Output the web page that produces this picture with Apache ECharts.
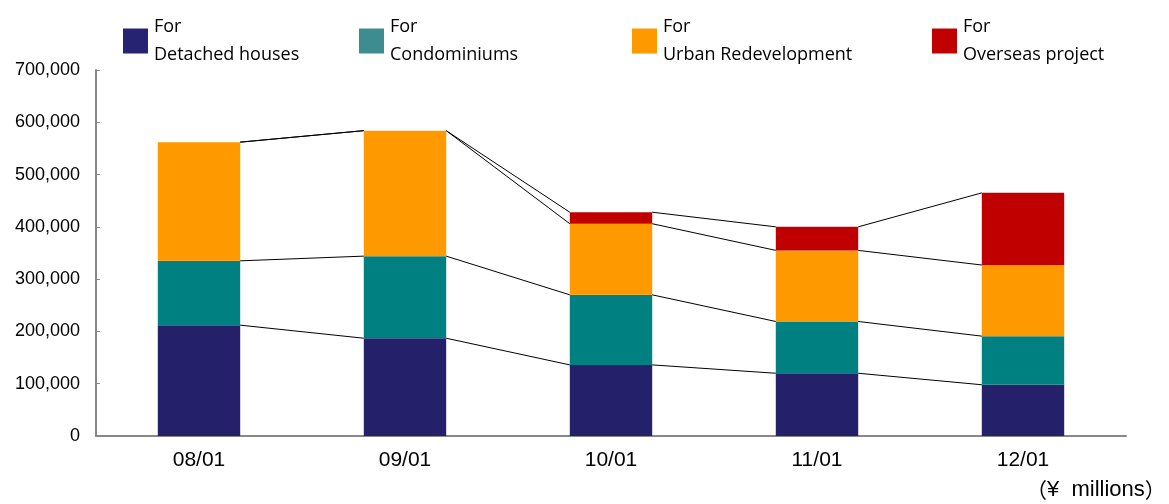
<!DOCTYPE html>
<html>
<head>
<meta charset="utf-8">
<script src="https://cdn.jsdelivr.net/npm/echarts@6/dist/echarts.min.js"></script>
<style>
  html, body { margin: 0; padding: 0; background: #fff; }
  #chart { width: 1169px; height: 504px; }
</style>
</head>
<body>
<div id="chart"></div>
<script>
// Stacked balances by fiscal year-end, Excel-style with series lines between bars.
const categories = ["08/01", "09/01", "10/01", "11/01", "12/01"];
const detached = [212000, 187000, 136000, 120000, 98000];
const condos = [123000, 157000, 134000, 99000, 93000];
const urban = [227000, 240000, 136000, 136000, 136000];
const overseas = [0, 0, 22000, 45000, 138000];
const yTicks = [0, 100000, 200000, 300000, 400000, 500000, 600000, 700000];

const seriesDefs = [
  { name: "Detached houses", data: detached, color: "#24216a", legendColor: "#262372" },
  { name: "Condominiums", data: condos, color: "#008080", legendColor: "#3d8c8f" },
  { name: "Urban Redevelopment", data: urban, color: "#ff9900", legendColor: "#ff9900" },
  { name: "Overseas project", data: overseas, color: "#c00000", legendColor: "#c00000" },
];
const legendLeft = [118, 354, 627, 927];
const BAR_FRAC = 0.4;

// running totals at each stack level, used for the connector lines
const levels = [];
seriesDefs.reduce((acc, s) => {
  const next = acc.map((v, i) => v + s.data[i]);
  levels.push(next);
  return next;
}, categories.map(() => 0));

const chart = echarts.init(document.getElementById("chart"));

const barSeries = seriesDefs.map((s) => ({
  name: s.name,
  type: "bar",
  stack: "total",
  barWidth: BAR_FRAC * 100 + "%",
  itemStyle: { color: s.color },
  data: s.data,
}));

const connectors = {
  type: "custom",
  silent: true,
  z: 3,
  data: categories.map((c, i) => [i, 0]),
  encode: { x: 0, y: 1 },
  renderItem(params, api) {
    const i = api.value(0);
    if (i >= categories.length - 1) return null;
    const half = api.size([1, 0])[0] * BAR_FRAC / 2;
    const children = levels.map((lv) => {
      const a = api.coord([i, lv[i]]);
      const b = api.coord([i + 1, lv[i + 1]]);
      return {
        type: "line",
        shape: { x1: a[0] + half, y1: a[1], x2: b[0] - half, y2: b[1] },
        style: { stroke: "#000", lineWidth: 1 },
      };
    });
    return { type: "group", children };
  },
};

const cjk = "Noto Sans CJK JP, sans-serif";

chart.setOption({
  animation: false,
  textStyle: { fontFamily: "Liberation Sans, Arial, sans-serif" },
  grid: { left: 96, right: 43, top: 70, bottom: 68 },
  legend: seriesDefs.map((s, k) => ({
    left: legendLeft[k],
    top: 8,
    icon: "rect",
    itemWidth: 25,
    itemHeight: 25,
    selectedMode: false,
    data: [{ name: s.name, itemStyle: { color: s.legendColor } }],
    formatter: (n) => "For\n" + n,
    textStyle: {
      fontFamily: "Open Sans, sans-serif",
      fontSize: 18,
      lineHeight: 28,
      color: "#000",
      padding: [0, 0, 0, 1],
    },
  })),
  xAxis: {
    type: "category",
    data: categories,
    axisLine: { lineStyle: { color: "#888", width: 2 } },
    axisTick: { length: 5, lineStyle: { color: "#888" } },
    axisLabel: { color: "#000", fontSize: 21, margin: 14 },
  },
  yAxis: {
    type: "value",
    min: yTicks[0],
    max: yTicks[yTicks.length - 1],
    interval: yTicks[1] - yTicks[0],
    splitLine: { show: false },
    axisLine: { show: true, lineStyle: { color: "#888", width: 2 } },
    axisTick: { show: true, inside: true, length: 4, lineStyle: { color: "#888" } },
    axisLabel: {
      color: "#000",
      fontSize: 18,
      margin: 16,
      formatter: (v) => v.toLocaleString("en-US"),
    },
  },
  graphic: [{
    type: "text",
    left: 1026,
    top: 479,
    style: {
      text: "{p|（}{t|¥  millions}{p|）}",
      fill: "#000",
      rich: {
        p: { fontFamily: cjk, fontSize: 21, fill: "#000" },
        t: { fontFamily: "Liberation Sans, sans-serif", fontSize: 22, fill: "#000" },
      },
    },
  }],
  series: [...barSeries, connectors],
});
</script>
</body>
</html>
